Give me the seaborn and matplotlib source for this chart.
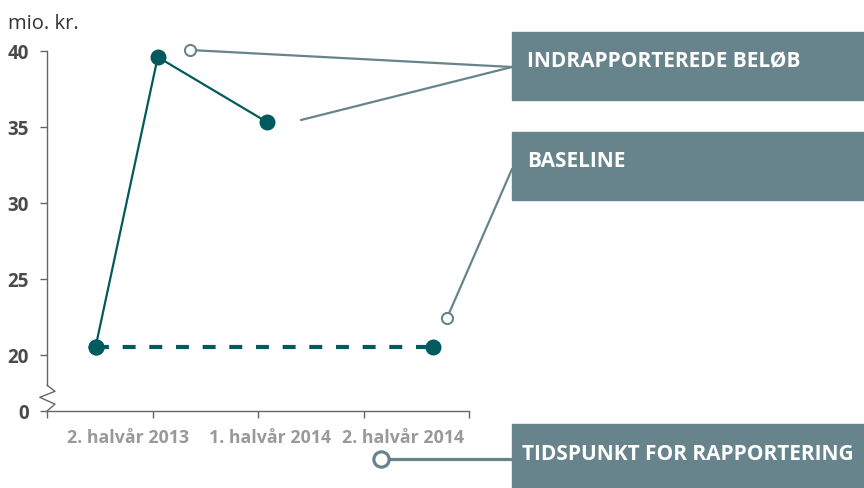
import matplotlib
matplotlib.use("Agg")
import matplotlib.pyplot as plt
import seaborn as sns
from matplotlib.patches import Rectangle
from matplotlib.lines import Line2D

# ---------------- data ----------------
report_x = [0.46, 1.05, 2.09]
report_values = [20.5, 39.6, 35.3]
baseline_x = [0.46, 3.66]
baseline_values = [20.5, 20.5]
ytick_values = [16.3, 20, 25, 30, 35, 40]
ytick_labels = ["0", "20", "25", "30", "35", "40"]
xtick_values = [0, 1, 2, 3, 4]
period_x = [0.77, 2.11, 3.37]
period_labels = ["2. halvår 2013", "1. halvår 2014", "2. halvår 2014"]
box_labels = ["INDRAPPORTEREDE BELØB", "BASELINE", "TIDSPUNKT FOR RAPPORTERING"]
unit_label = "mio. kr."

# ---------------- style ----------------
sns.set_theme(style="white")
plt.rcParams["font.family"] = ["Open Sans", "DejaVu Sans"]

DARK = "#005a5e"
GRAY_BOX = "#67848d"
AXIS_C = "#666666"

W, H = 864, 489
fig = plt.figure(figsize=(W / 100, H / 100), dpi=100)


def fp(px, py):
    return (px / W, 1 - py / H)


ax = fig.add_axes([47 / W, 1 - 412 / H, (469 - 47) / W, (412 - 52) / H])
ax.set_xlim(0, 4)
ax.set_ylim(16.3, 40)

# lines
sns.lineplot(x=baseline_x, y=baseline_values, ax=ax, color=DARK, lw=3,
             linestyle=(0, (3.1, 3.3)), marker="o", markersize=11.5,
             markeredgewidth=0, clip_on=False)
sns.lineplot(x=report_x, y=report_values, ax=ax, color=DARK, lw=1.6,
             marker="o", markersize=11.5, markeredgewidth=0, clip_on=False,
             sort=False)

# spines
for s in ["top", "right"]:
    ax.spines[s].set_visible(False)
for s in ["left", "bottom"]:
    ax.spines[s].set_color(AXIS_C)
    ax.spines[s].set_linewidth(1.0)
ax.spines["left"].set_bounds(18.0, 40)

# axis break zigzag
brk = Line2D([0, 0.019, -0.017, 0.019, 0], [18.0, 17.6, 17.2, 16.75, 16.3],
             transform=ax.get_yaxis_transform(), color=AXIS_C, lw=1.0,
             clip_on=False)
ax.add_line(brk)

# y ticks
ax.set_yticks(ytick_values)
ax.set_yticklabels(ytick_labels)
ax.tick_params(axis="y", direction="out", length=5, width=1.0, color=AXIS_C,
               pad=8, labelsize=13.5, labelcolor="#4a4a4a", left=True)
for t in ax.get_yticklabels():
    t.set_fontweight("bold")

# x ticks: major = marks, minor = labels
ax.set_xticks(xtick_values)
ax.set_xticklabels([""] * len(xtick_values))
ax.set_xticks(period_x, minor=True)
ax.set_xticklabels(period_labels, minor=True)
ax.tick_params(axis="x", which="major", direction="out", length=5, width=1.0,
               color=AXIS_C, bottom=True)
ax.tick_params(axis="x", which="minor", length=0, pad=12, labelsize=12.8,
               labelcolor="#999999", bottom=True)
for t in ax.get_xticklabels(minor=True):
    t.set_fontweight("bold")

# unit label
fig.text(*fp(8, 29), unit_label, fontsize=14.5, color="#333333",
         ha="left", va="baseline")

# annotation boxes
for (y0, y1) in [(33, 101), (133, 201), (425, 489)]:
    x0, yb = fp(512, y1)
    fig.patches.append(Rectangle((x0, yb), (W - 512) / W, (y1 - y0) / H,
                                 transform=fig.transFigure, color=GRAY_BOX,
                                 zorder=1))
fig.text(*fp(527, 62), box_labels[0], color="white", fontsize=15,
         fontweight="bold", ha="left", va="center")
fig.text(*fp(527, 162), box_labels[1], color="white", fontsize=15,
         fontweight="bold", ha="left", va="center")
fig.text(*fp(522, 455), box_labels[2], color="white", fontsize=15,
         fontweight="bold", ha="left", va="center")

# leader lines
def leader(p1, p2, lw=1.6):
    a, b = fp(*p1), fp(*p2)
    fig.add_artist(Line2D([a[0], b[0]], [a[1], b[1]], transform=fig.transFigure,
                          color=GRAY_BOX, lw=lw, zorder=2))


def ring(p, ms=8, mew=1.5):
    a = fp(*p)
    fig.add_artist(Line2D([a[0]], [a[1]], transform=fig.transFigure,
                          marker="o", markersize=ms, markerfacecolor="white",
                          markeredgecolor=GRAY_BOX, markeredgewidth=mew,
                          linestyle="none", zorder=3))


leader((190, 51), (512, 68))
leader((301, 121), (512, 68))
leader((447, 319), (512, 170))
leader((381, 460), (512, 460), lw=2.3)
ring((190, 51))
ring((447, 319))
ring((381, 460), ms=11, mew=2.3)

fig.savefig("out.png", dpi=100)
